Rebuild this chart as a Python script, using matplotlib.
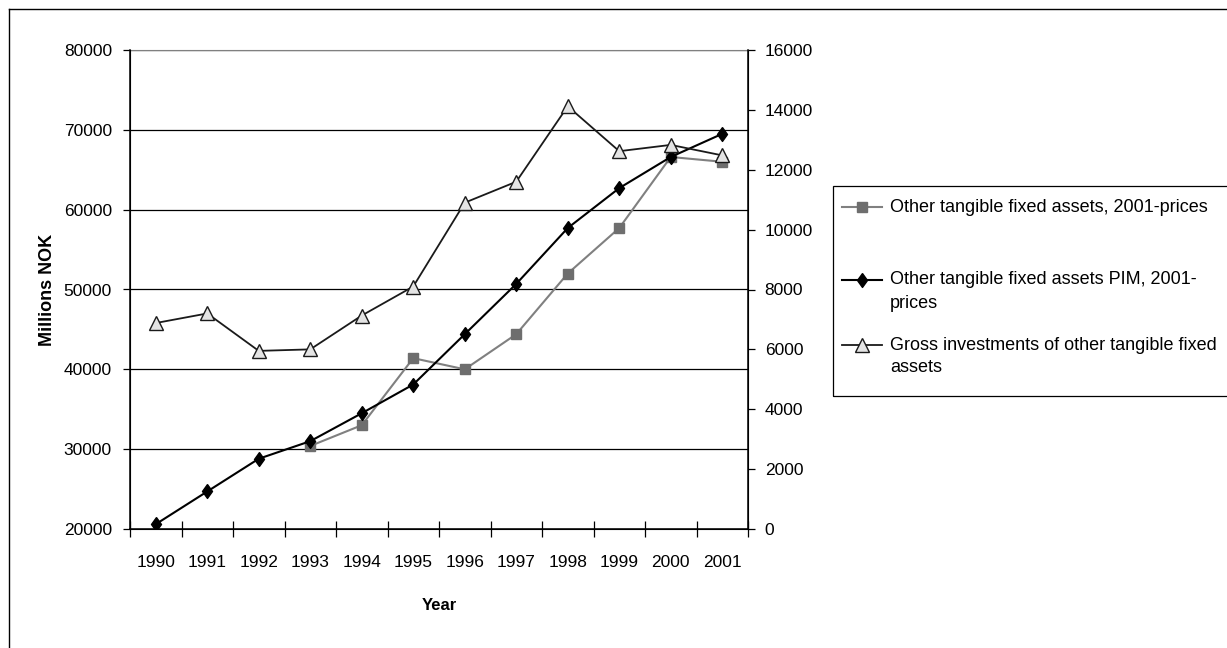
import numpy as np
import matplotlib.pyplot as plt
from matplotlib.lines import Line2D
from matplotlib.patches import Rectangle

plt.rcParams['font.family'] = ['Liberation Sans', 'DejaVu Sans']

years = ['1990', '1991', '1992', '1993', '1994', '1995', '1996',
         '1997', '1998', '1999', '2000', '2001']

# other tangible fixed assets, 2001-prices (from 1993)
assets_years = ['1993', '1994', '1995', '1996', '1997', '1998', '1999', '2000', '2001']
assets = [30400, 33000, 41400, 40000, 44400, 52000, 57700, 66600, 66000]

# PIM estimate, 2001-prices
assets_pim = [20600, 24700, 28800, 31000, 34500, 38100, 44400,
              50700, 57700, 62700, 66600, 69500]

# gross investments (right axis)
gross_inv = [6880, 7200, 5950, 6000, 7130, 8100, 10900,
             11600, 14120, 12620, 12830, 12480]

labels = [['Other tangible fixed assets, 2001-prices'],
          ['Other tangible fixed assets PIM, 2001-', 'prices'],
          ['Gross investments of other tangible fixed', 'assets']]

W, H = 1227, 648
fig = plt.figure(figsize=(W / 100, H / 100), dpi=100)
ax = fig.add_axes([130 / W, 1 - 529 / H, 618 / W, 479 / H])
ax2 = ax.twinx()

# Excel-style diamond, taller than wide
diamond = [(0, 1), (0.72, 0), (0, -1), (-0.72, 0), (0, 1)]

sq_style = dict(color='#808080', lw=1.5, marker='s', ms=7.5,
                mfc='#6e6e6e', mec='#6e6e6e')
dm_style = dict(color='black', lw=1.5, marker=diamond, ms=10,
                mfc='black', mec='black')
tr_style = dict(color='#1a1a1a', lw=1.3, marker='^', ms=9.5,
                mfc='#e4e4e4', mec='#1a1a1a', mew=1.0)

x = np.arange(len(years))
xa = np.array([years.index(y) for y in assets_years])

ax.plot(xa, assets, zorder=3, **sq_style)
ax.plot(x, assets_pim, zorder=4, **dm_style)
ax2.plot(x, gross_inv, zorder=3, **tr_style)

ax.set_xlim(-0.5, len(years) - 0.5)
ax.set_ylim(20000, 80000)
ax.set_yticks(np.arange(20000, 80001, 10000))
ax2.set_ylim(0, 16000)
ax2.set_yticks(np.arange(0, 16001, 2000))

ax.set_xticks(x)
ax.set_xticklabels(years)
ax.tick_params(axis='x', length=0, pad=19, labelsize=12.5)
ax.set_xticks(np.arange(-0.5, len(years)), minor=True)
ax.tick_params(axis='x', which='minor', direction='inout', length=12, width=0.9)
ax.tick_params(axis='y', direction='out', length=5, width=0.9, labelsize=12.5, pad=8)
ax2.tick_params(axis='y', direction='out', length=5, width=0.9, labelsize=12.5, pad=7)

ax.grid(axis='y', color='black', lw=0.9)
ax.set_axisbelow(True)
for s in ['left', 'bottom']:
    ax.spines[s].set_linewidth(1.1)
ax.spines['top'].set_color('#808080')
ax2.spines['right'].set_linewidth(1.1)
ax2.spines['top'].set_visible(False)

ax.set_xlabel('Year', fontweight='bold', fontsize=12)
ax.xaxis.set_label_coords(0.5, (529 - 606) / 479)
ax.xaxis.label.set_va('center')
ax.set_ylabel('Millions NOK', fontweight='bold', fontsize=13)
ax.yaxis.set_label_coords((47 - 130) / 618, 0.5)
ax.yaxis.label.set_va('center')

# legend box, drawn by hand to keep the Excel row layout
fig.add_artist(Rectangle((833 / W, 1 - 396 / H), 500 / W, 210 / H,
                         transform=fig.transFigure, fill=False,
                         edgecolor='black', lw=0.9))
row_y = [[207], [280, 303], [345, 368]]
for style, rows, ys in zip([sq_style, dm_style, tr_style], labels, row_y):
    yl = 1 - ys[0] / H
    line_only = {k: v for k, v in style.items() if k in ('color', 'lw')}
    mark_only = {k: v for k, v in style.items() if k != 'lw'}
    fig.add_artist(Line2D([842 / W, 882 / W], [yl, yl], **line_only))
    fig.add_artist(Line2D([862 / W], [yl], ls='none', **mark_only))
    for txt, yy in zip(rows, ys):
        fig.text(890 / W, 1 - yy / H, txt, fontsize=13, va='center', ha='left')

# chart area border
fig.add_artist(Line2D([9 / W, 9 / W], [0, 1 - 9 / H], color='black', lw=1))
fig.add_artist(Line2D([9 / W, 1], [1 - 9 / H, 1 - 9 / H], color='black', lw=1))

fig.savefig('out.png', dpi=100)
